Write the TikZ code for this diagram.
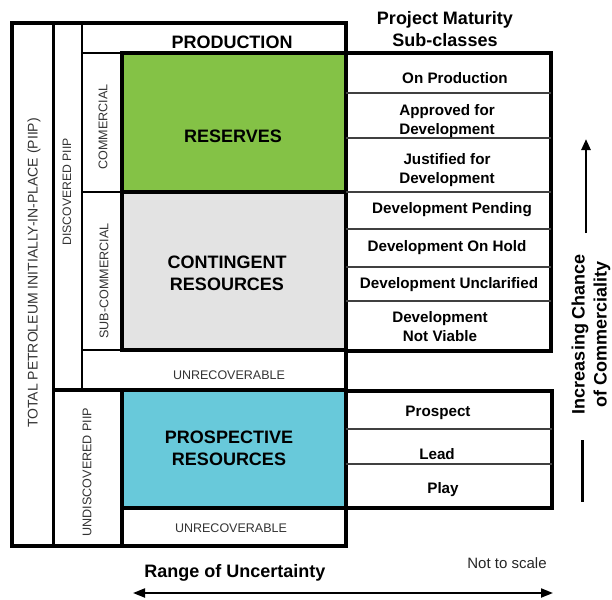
\documentclass[tikz,border=0pt]{standalone}
\usepackage{fontspec}
\setmainfont{Liberation Sans}
\usetikzlibrary{arrows.meta}
\definecolor{resgreen}{RGB}{132,194,70}
\definecolor{prosblue}{RGB}{104,201,218}
\definecolor{contgrey}{RGB}{227,227,227}
\begin{document}
\begin{tikzpicture}[x=1pt,y=-1pt,
  heavy/.style={line width=3.5pt},
  medium/.style={line width=2.5pt},
  rowline/.style={line width=1.2pt, draw=black!75},
  big/.style={font=\fontsize{18}{22}\selectfont\bfseries, align=center, inner sep=0pt},
  subl/.style={font=\fontsize{15.2}{19}\selectfont\bfseries, align=center, inner sep=0pt},
  vlab/.style={font=\fontsize{12.6}{14}\selectfont, rotate=90, text=black!80, inner sep=0pt},
  unrec/.style={font=\fontsize{12.5}{14}\selectfont, text=black!80, inner sep=0pt},
]
\useasboundingbox (0,0) rectangle (612,599);
% fills
\fill[resgreen] (122,53) rectangle (346,192);
\fill[contgrey] (122,192) rectangle (346,350);
\fill[prosblue] (122,390) rectangle (346,508);
% frame and columns
\draw[heavy] (12,23) rectangle (346,546);
\draw[line width=3pt] (53,23) -- (53,546);
\draw[medium] (82,23) -- (82,390);
\draw[medium] (82,53) -- (122,53);
\draw[medium] (82,192) -- (122,192);
\draw[medium] (82,350) -- (122,350);
\draw[heavy] (122,53) rectangle (346,192);
\draw[heavy] (122,192) rectangle (346,350);
\draw[heavy] (53,390) -- (122,390);
\draw[heavy] (122,390) rectangle (346,508);
\draw[heavy] (122,508) -- (122,546);
% sub-class tables
\draw[heavy] (346,53) rectangle (551,351);
\foreach \y in {93,138,192,229,267,301} \draw[rowline] (346,\y) -- (551,\y);
\draw[heavy] (346,391) rectangle (552,508);
\foreach \y in {429,464} \draw[rowline] (346,\y) -- (552,\y);
% labels in boxes
\node[big] (prod) at (232,42) {PRODUCTION};
\node[big] (res) at (233,136) {RESERVES};
\node[big] (cont) at (227,273) {CONTINGENT\\RESOURCES};
\node[unrec] (unr1) at (229,375) {UNRECOVERABLE};
\node[big] (pros) at (229,448) {PROSPECTIVE\\RESOURCES};
\node[unrec] (unr2) at (231,528) {UNRECOVERABLE};
% vertical labels
\node[vlab, font=\fontsize{14}{15}\selectfont] (piip) at (34,273) {TOTAL PETROLEUM INITIALLY-IN-PLACE (PIIP)};
\node[vlab, font=\fontsize{12.2}{14}\selectfont] (disc) at (67,192) {DISCOVERED PIIP};
\node[vlab] (comm) at (103,127) {COMMERCIAL};
\node[vlab] (subc) at (104,281) {SUB-COMMERCIAL};
\node[vlab] (undisc) at (87,472) {UNDISCOVERED PIIP};
% sub-class labels
\node[big] (pm) at (445,29) {Project Maturity\\Sub-classes};
\node[subl] (s1) at (455,78) {On Production};
\node[subl] (s2) at (447,121.5) {Approved for\\Development};
\node[subl] (s3) at (447,170.5) {Justified for\\Development};
\node[subl] (s4) at (452,210) {Development Pending};
\node[subl] (s5) at (447,248) {Development On Hold};
\node[subl] (s6) at (449,285) {Development Unclarified};
\node[subl] (s7) at (440,327) {Development\\Not Viable};
\node[subl] (p1) at (438,413) {Prospect};
\node[subl] (p2) at (437,454) {Lead};
\node[subl] (p3) at (443,490) {Play};
% right axis
\node[big, rotate=90] (chance) at (591,334) {Increasing Chance\\of Commerciality};
\coordinate (ua) at (586,233);
\coordinate (ub) at (586,139);
\draw[line width=2.5pt, -{Triangle[length=11pt,width=9pt]}] (ua) -- (ub);
\coordinate (la) at (582,440);
\coordinate (lb) at (582,502);
\draw[line width=3pt] (la) -- (lb);
% bottom axis
\node[big] (range) at (235,573) {Range of Uncertainty};
\node[font=\fontsize{15}{16}\selectfont, text=black!85, inner sep=0pt] (scale) at (507,563) {Not to scale};
\coordinate (ra) at (133,593);
\coordinate (rb) at (553,593);
\draw[line width=2pt, {Triangle[length=12pt,width=9pt]}-{Triangle[length=12pt,width=9pt]}] (ra) -- (rb);
\end{tikzpicture}
\end{document}
